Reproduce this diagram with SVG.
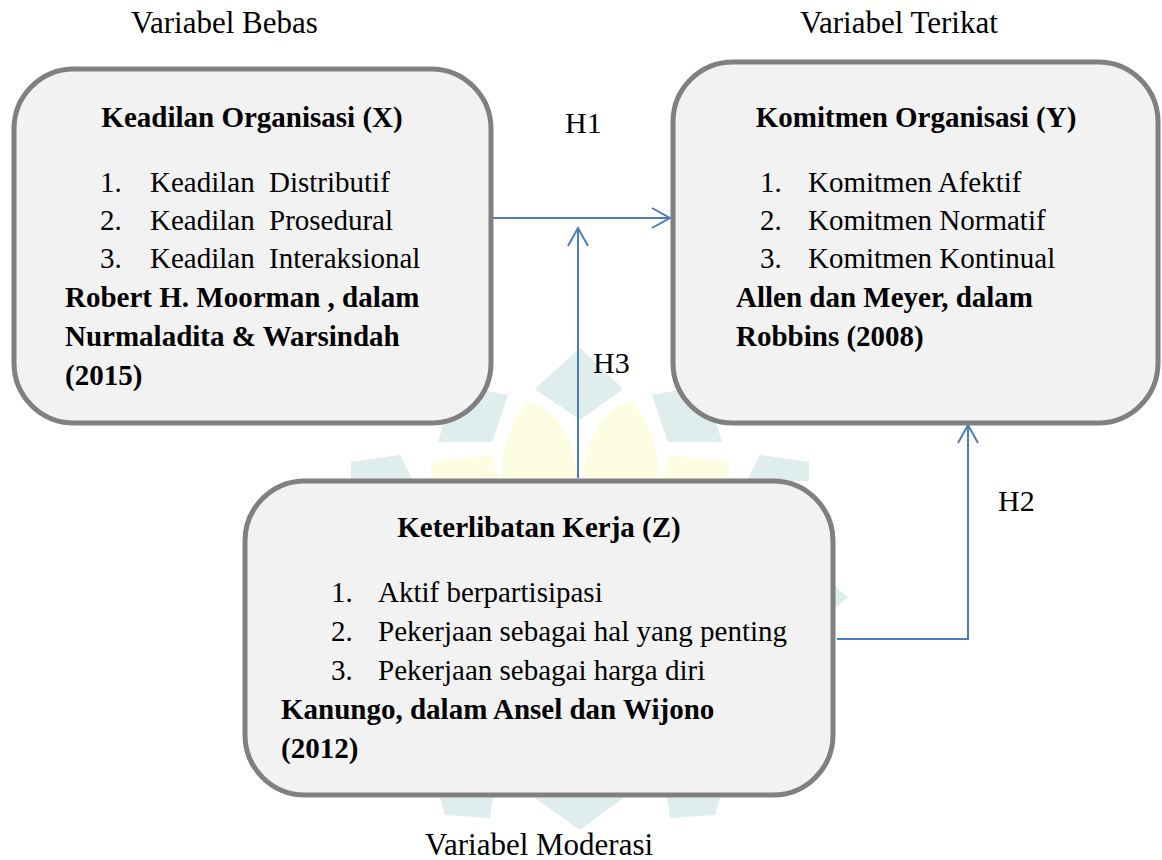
<svg xmlns="http://www.w3.org/2000/svg" width="1162" height="860" viewBox="0 0 1162 860">
  <style>
    text { font-family: "Liberation Serif", "Times New Roman", serif; fill: #000; }
    .t { font-size: 29px; }
    .b { font-size: 29px; font-weight: bold; }
    .lab { font-size: 31px; }
    .h { font-size: 30px; }
    .box { fill: #f2f2f2; stroke: #808080; stroke-width: 5; }
    .conn { fill: none; stroke: #4a7ebb; stroke-width: 2; }
    .wt { fill: #dfeded; }
    .wy { fill: #fdfde2; }
  </style>
  <defs>
    <marker id="arr" markerUnits="userSpaceOnUse" markerWidth="22" markerHeight="24" viewBox="0 0 22 24" refX="19" refY="12" orient="auto">
      <path d="M1,2 L19,12 L1,22" fill="none" stroke="#4a7ebb" stroke-width="2"/>
    </marker>
  </defs>
  <rect width="1162" height="860" fill="#ffffff"/>

  <g id="watermark">
    <polygon class="wt" points="535,389 580,348 623,389 580,420"/>
    <polygon class="wt" points="652,395 705,385 722,442 668,442"/>
    <polygon class="wt" points="508,395 455,385 438,442 492,442"/>
    <polygon class="wt" points="351,462 400,455 413,481 351,481"/>
    <polygon class="wt" points="809,462 760,455 747,481 809,481"/>
    <polygon class="wt" points="833,585 848,597 833,610"/>
    <polygon class="wt" points="535,798 623,798 580,830"/>
    <polygon class="wt" points="440,798 493,798 490,818 445,815"/>
    <polygon class="wt" points="667,798 720,798 715,815 670,818"/>
    <path class="wy" d="M577,478 C575,440 560,415 530,400 C510,420 500,450 503,478 Z"/>
    <path class="wy" d="M583,478 C585,440 600,415 630,400 C650,420 660,450 657,478 Z"/>
    <polygon class="wy" points="431,462 490,455 500,481 431,481"/>
    <polygon class="wy" points="729,462 670,455 660,481 729,481"/>
  </g>

  <g id="labels">
    <text class="lab" x="131" y="33">Variabel Bebas</text>
    <text class="lab" x="800" y="33">Variabel Terikat</text>
    <text class="lab" x="425" y="855">Variabel Moderasi</text>
  </g>

  <g id="connectors">
    <line class="conn" x1="492" y1="218" x2="670" y2="218" marker-end="url(#arr)"/>
    <line class="conn" x1="578" y1="478" x2="578" y2="228" marker-end="url(#arr)"/>
    <polyline class="conn" points="837,639 968,639 968,425" marker-end="url(#arr)"/>
    <text class="h" x="565" y="133">H1</text>
    <text class="h" x="593" y="373">H3</text>
    <text class="h" x="998" y="511">H2</text>
  </g>

  <g id="nodeX">
    <rect class="box" x="14" y="69" width="477" height="354" rx="60" ry="60"/>
    <text class="b" x="252" y="127" text-anchor="middle">Keadilan Organisasi (X)</text>
    <text class="t" x="100" y="192">1.</text>
    <text class="t" x="150" y="192">Keadilan</text>
    <text class="t" x="269" y="192">Distributif</text>
    <text class="t" x="100" y="230">2.</text>
    <text class="t" x="150" y="230">Keadilan</text>
    <text class="t" x="269" y="230">Prosedural</text>
    <text class="t" x="100" y="268">3.</text>
    <text class="t" x="150" y="268">Keadilan</text>
    <text class="t" x="269" y="268">Interaksional</text>
    <text class="b" x="65" y="307">Robert H. Moorman , dalam</text>
    <text class="b" x="65" y="346">Nurmaladita &amp; Warsindah</text>
    <text class="b" x="65" y="385">(2015)</text>
  </g>

  <g id="nodeY">
    <rect class="box" x="673" y="62" width="485" height="361" rx="60" ry="60"/>
    <text class="b" x="916" y="127" text-anchor="middle">Komitmen Organisasi (Y)</text>
    <text class="t" x="760" y="192">1.</text>
    <text class="t" x="808" y="192">Komitmen Afektif</text>
    <text class="t" x="760" y="230">2.</text>
    <text class="t" x="808" y="230">Komitmen Normatif</text>
    <text class="t" x="760" y="268">3.</text>
    <text class="t" x="808" y="268">Komitmen Kontinual</text>
    <text class="b" x="736" y="307">Allen dan Meyer, dalam</text>
    <text class="b" x="736" y="346">Robbins (2008)</text>
  </g>

  <g id="nodeZ">
    <rect class="box" x="245" y="481" width="588" height="314" rx="60" ry="60"/>
    <text class="b" x="539" y="537" text-anchor="middle">Keterlibatan Kerja (Z)</text>
    <text class="t" x="331" y="602">1.</text>
    <text class="t" x="378" y="602">Aktif berpartisipasi</text>
    <text class="t" x="331" y="641">2.</text>
    <text class="t" x="378" y="641">Pekerjaan sebagai hal yang penting</text>
    <text class="t" x="331" y="680">3.</text>
    <text class="t" x="378" y="680">Pekerjaan sebagai harga diri</text>
    <text class="b" x="281" y="719">Kanungo, dalam Ansel dan Wijono</text>
    <text class="b" x="281" y="758">(2012)</text>
  </g>
</svg>
